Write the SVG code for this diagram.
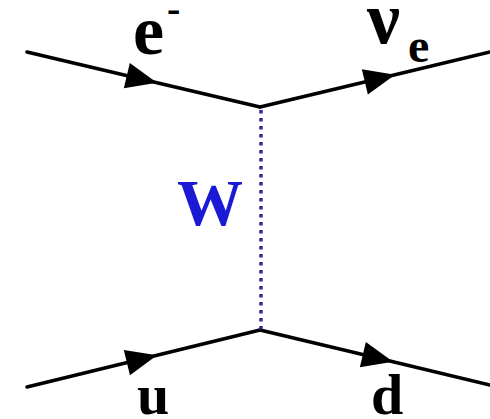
<svg xmlns="http://www.w3.org/2000/svg" width="490" height="419" viewBox="0 0 490 419">
<style>
.f{fill:none;stroke:#000;stroke-width:3.5;stroke-linecap:round;marker-mid:url(#arr)}
.w{fill:none;stroke:#2c2c96;stroke-width:3.5;stroke-dasharray:3.5 4.5}
.lbl{font-family:"Liberation Serif","Times New Roman",serif;font-weight:bold;fill:#000}
</style>
<defs>
<marker id="arr" markerUnits="userSpaceOnUse" markerWidth="40" markerHeight="40" viewBox="-35 -20 40 40" refX="0" refY="0" orient="auto" overflow="visible">
<path d="M-31,-13 L0,0 L-31,13 z" fill="#000"/>
</marker>
</defs>
<rect width="490" height="419" fill="#fff"/>
<g id="connectors">
<path id="e-in" class="f" d="M27,52 L157,82.7 L260,107"/>
<path id="nu-out" class="f" d="M260,107 L395,74.7 L490,52"/>
<path id="u-in" class="f" d="M27,387 L157,355.2 L260,330"/>
<path id="d-out" class="f" d="M260,330 L393,361.8 L490,385"/>
<path id="w-boson" class="w" d="M261,110 L261,330"/>
</g>
<g id="label-e"><text class="lbl" x="133" y="54" font-size="70">e</text><text class="lbl" x="167" y="22" font-size="40">-</text></g>
<g id="label-nu"><text class="lbl" x="367" y="43" font-size="74">ν</text><text class="lbl" x="408" y="62" font-size="48">e</text></g>
<g id="label-w"><text x="177" y="225" font-size="66" font-family="Liberation Serif,'Times New Roman',serif" font-weight="bold" fill="#1a1ad6">W</text></g>
<g id="label-u"><text class="lbl" x="137" y="414" font-size="58">u</text></g>
<g id="label-d"><text class="lbl" x="371" y="414" font-size="58">d</text></g>
</svg>
